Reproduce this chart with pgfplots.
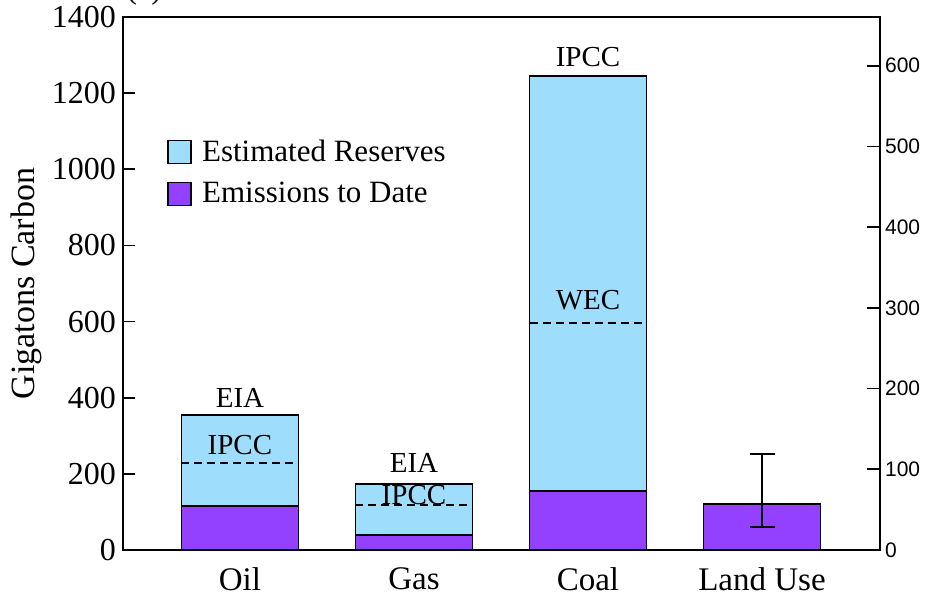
\documentclass[border=0pt]{standalone}
\usepackage{fontspec}
\setmainfont{Liberation Serif}
\newfontfamily\sansf{Liberation Sans}
\usepackage{pgfplots}
\pgfplotsset{compat=1.18}
\definecolor{resblue}{RGB}{158,222,252}
\definecolor{empurple}{RGB}{147,64,255}
\pgfplotsset{legbox/.style={legend image code/.code={\draw[##1,line width=0.8pt] (0pt,-5.75pt) rectangle (11.5pt,5.75pt); \path[draw=none,fill=none] (0pt,0pt) -- (15pt,0pt);}}}
\begin{document}
\begin{tikzpicture}
\useasboundingbox (-61.5pt,-25.5pt) rectangle (402pt,275pt);
\begin{axis}[
  scale only axis, width=378.5pt, height=266.5pt,
  at={(0pt,0pt)}, anchor=south west,
  xmin=-0.672, xmax=3.678, ymin=0, ymax=1400,
  xtick={0,1,2,3}, xticklabels={Oil,Gas,Coal,Land Use},
  ytick={0,200,...,1400},
  ytick pos=left, xtick pos=bottom,
  major tick length=6pt, tick align=inside,
  x tick style={draw=none},
  axis line style={line width=0.9pt},
  every tick/.style={black, line width=0.9pt},
  ylabel={Gigatons Carbon},
  ylabel style={at={(axis description cs:-0.127,0.5)}, anchor=center, font=\fontsize{17}{20}\selectfont},
  tick label style={font=\fontsize{16}{19}\selectfont},
  xticklabel style={yshift=-5.5pt, font=\fontsize{16.5}{19}\selectfont},
  /pgf/number format/assume math mode=true,
  /pgf/number format/1000 sep={},
  legend style={at={(axis description cs:0.058,0.778)}, anchor=north west, draw=none, fill=none, inner sep=0pt,
    font=\fontsize{15.5}{18}\selectfont, row sep=5pt},
  legend cell align=left,
  clip=false,
]
\addplot[ybar, bar width=58.5pt, bar shift=0pt, fill=resblue, draw=black, line width=0.8pt, legbox]
  coordinates {(0,355) (1,173) (2,1245)};
\addlegendentry{Estimated Reserves}
\addplot[ybar, bar width=58.5pt, bar shift=0pt, fill=empurple, draw=black, line width=0.8pt, legbox]
  coordinates {(0,116) (1,39) (2,155) (3,121)};
\addlegendentry{Emissions to Date}
\addplot[forget plot, draw=none, mark=none,
  error bars/.cd, y dir=both, y explicit,
  error bar style={line width=0.8pt, black},
  error mark options={rotate=90, mark size=6.25pt, line width=0.8pt, black}]
  coordinates {(3,121) += (0,131) -= (0,61)};
\addplot[forget plot, black, line width=0.8pt, dash pattern=on 4pt off 2.5pt] coordinates {(-0.336,229) (0.336,229)};
\addplot[forget plot, black, line width=0.8pt, dash pattern=on 4pt off 2.5pt] coordinates {(0.664,118) (1.336,118)};
\addplot[forget plot, black, line width=0.8pt, dash pattern=on 4pt off 2.5pt] coordinates {(1.664,596) (2.336,596)};
\begin{scope}[every node/.style={font=\fontsize{14.5}{17}\selectfont, inner sep=0pt}]
\node at (axis cs:0,399) {EIA};
\node at (axis cs:0,276) {IPCC};
\node at (axis cs:1,228) {EIA};
\node at (axis cs:1,144) {IPCC};
\node at (axis cs:2,1295) {IPCC};
\node at (axis cs:2,657) {WEC};
\end{scope}
\node[anchor=south, font=\fontsize{16}{19}\selectfont, inner sep=0pt] at (axis cs:-0.55,1430) {(a)};
\end{axis}
\begin{axis}[
  scale only axis, width=378.5pt, height=266.5pt,
  at={(0pt,0pt)}, anchor=south west,
  xmin=-0.672, xmax=3.678, ymin=0, ymax=660.38,
  axis x line=none, axis y line*=right,
  ytick={0,100,...,600},
  major tick length=6.5pt, tick align=inside,
  axis line style={line width=0.9pt},
  every tick/.style={black, line width=0.9pt},
  yticklabel style={font=\sansf\fontsize{10.5}{12}\selectfont, xshift=-1pt},
  /pgf/number format/assume math mode=true,
]
\addplot[draw=none] coordinates {(0,0) (1,0)};
\end{axis}
\end{tikzpicture}
\end{document}
